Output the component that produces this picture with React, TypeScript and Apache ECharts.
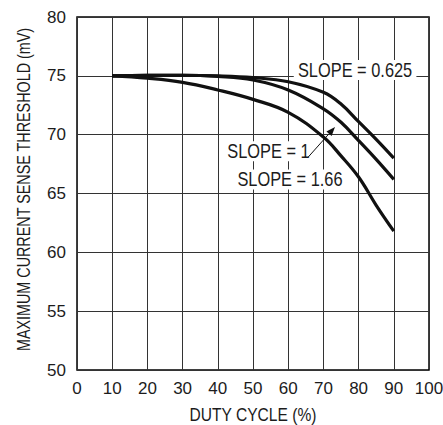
import React, { useEffect, useRef } from "react";
import * as echarts from "echarts";

const dutyCycle = [10, 20, 30, 40, 50, 60, 70, 75, 80, 85, 90];
const slope0625 = [75, 75.05, 75.05, 75.0, 74.85, 74.5, 73.6, 72.6, 71.1, 69.6, 68.0];
const slope1 = [75, 75.05, 75.05, 74.95, 74.65, 73.8, 72.2, 71.05, 69.5, 67.9, 66.2];
const slope166 = [75, 74.8, 74.45, 73.8, 73.0, 71.9, 69.8, 68.2, 66.4, 64.0, 61.8];

const xTicks = [0, 10, 20, 30, 40, 50, 60, 70, 80, 90, 100];
const yTicks = [50, 55, 60, 65, 70, 75, 80];

const xTitle = "DUTY CYCLE (%)";
const yTitle = "MAXIMUM CURRENT SENSE THRESHOLD (mV)";

const labels = [
  { text: "SLOPE = 0.625", at: [79, 75.5] },
  { text: "SLOPE = 1", at: [54.4, 68.6] },
  { text: "SLOPE = 1.66", at: [60.5, 66.2] },
];
const arrowFrom = [65.7, 68.1];
const arrowTo = [73.3, 70.65];

const FONT = "'Liberation Sans', Arial, Helvetica, sans-serif";
const NARROW = 0.82;
const INK = "#1c1c1c";

export default function App() {
  const ref = useRef<HTMLDivElement>(null);
  useEffect(() => {
    document.body.style.margin = "0";
    const chart = echarts.init(ref.current!, null, { renderer: "svg" });
    const mk = (name: string, vals: number[]) => ({
      name,
      type: "line",
      data: dutyCycle.map((x, i) => [x, vals[i]]),
      smooth: 0.4,
      showSymbol: false,
      lineStyle: { color: "#111", width: 3.2 },
      z: 3,
    });
    chart.setOption({
      animation: false,
      backgroundColor: "#fff",
      grid: {
        left: 77,
        right: 14,
        top: 17,
        bottom: 55,
        show: true,
        borderColor: "#000",
        borderWidth: 1.5,
        containLabel: false,
        outerBoundsMode: "none",
      },
      xAxis: {
        type: "value",
        min: xTicks[0],
        max: xTicks[xTicks.length - 1],
        interval: 10,
        axisLine: { show: false },
        axisTick: { show: false },
        axisLabel: { fontFamily: FONT, fontSize: 17, color: INK, margin: 10 },
        splitLine: { show: true, lineStyle: { color: "#333", width: 1 } },
      },
      yAxis: {
        type: "value",
        min: yTicks[0],
        max: yTicks[yTicks.length - 1],
        interval: 5,
        axisLine: { show: false },
        axisTick: { show: false },
        axisLabel: { fontFamily: FONT, fontSize: 17, color: INK, margin: 11 },
        splitLine: { show: true, lineStyle: { color: "#333", width: 1 } },
      },
      series: [mk("SLOPE = 0.625", slope0625), mk("SLOPE = 1", slope1), mk("SLOPE = 1.66", slope166)],
    });

    const px = (p: number[]) => chart.convertToPixel({ gridIndex: 0 }, p) as number[];
    const a = px(arrowFrom);
    const b = px(arrowTo);
    const dx = b[0] - a[0];
    const dy = b[1] - a[1];
    const len = Math.hypot(dx, dy);
    const ux = dx / len;
    const uy = dy / len;
    const hl = 9;
    const hw = 3.5;
    const base = [b[0] - ux * hl, b[1] - uy * hl];
    const head = [
      [b[0], b[1]],
      [base[0] - uy * hw, base[1] + ux * hw],
      [base[0] + uy * hw, base[1] - ux * hw],
    ];
    const graphics: any[] = labels.map((l) => {
      const p = px(l.at);
      return {
        type: "text",
        x: p[0],
        y: p[1],
        scaleX: NARROW,
        z: 10,
        style: {
          text: l.text,
          fontFamily: FONT,
          fontSize: 20,
          fill: INK,
          align: "center",
          verticalAlign: "middle",
          backgroundColor: "#fff",
          padding: [0, 5, 0, 5],
        },
      };
    });
    graphics.push({
      type: "line",
      z: 11,
      shape: { x1: a[0], y1: a[1], x2: base[0], y2: base[1] },
      style: { stroke: "#111", lineWidth: 1 },
    });
    graphics.push({
      type: "polygon",
      z: 11,
      shape: { points: head },
      style: { fill: "#111" },
    });
    const bl = px([xTicks[0], yTicks[0]]);
    const tr = px([xTicks[xTicks.length - 1], yTicks[yTicks.length - 1]]);
    graphics.push({
      type: "text",
      x: (bl[0] + tr[0]) / 2,
      y: bl[1] + 44,
      scaleX: NARROW,
      style: {
        text: xTitle,
        fontFamily: FONT,
        fontSize: 19,
        fill: INK,
        align: "center",
        verticalAlign: "middle",
      },
    });
    graphics.push({
      type: "text",
      x: bl[0] - 53,
      y: (bl[1] + tr[1]) / 2 - 4,
      rotation: Math.PI / 2,
      scaleX: NARROW,
      style: {
        text: yTitle,
        fontFamily: FONT,
        fontSize: 17.5,
        fill: INK,
        align: "center",
        verticalAlign: "middle",
      },
    });
    chart.setOption({ graphic: graphics });
    return () => chart.dispose();
  }, []);
  return (
    <div
      ref={ref}
      style={{ position: "absolute", left: 0, top: 0, width: 443, height: 425 }}
    />
  );
}
